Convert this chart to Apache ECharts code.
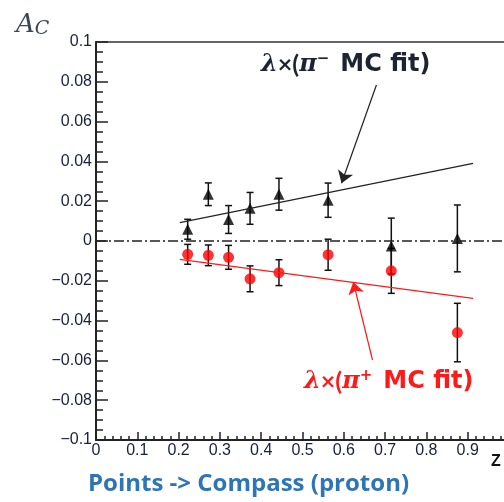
<!DOCTYPE html>
<html>
<head>
<meta charset="utf-8">
<script src="https://cdn.jsdelivr.net/npm/echarts@6/dist/echarts.min.js"></script>
<style>
html,body{margin:0;padding:0;background:#fff;}
#chart{width:504px;height:502px;}
</style>
</head>
<body>
<div id="chart"></div>
<script>
// z bins (same for both samples)
var zVals = [0.222, 0.272, 0.321, 0.373, 0.443, 0.562, 0.715, 0.875];
// pi- points (black triangles)
var acMinus = [0.0059, 0.0235, 0.0108, 0.0164, 0.0235, 0.0205, -0.0025, 0.0013];
var errMinus = [0.005, 0.0057, 0.007, 0.008, 0.008, 0.0086, 0.014, 0.0168];
// pi+ points (red circles)
var acPlus = [-0.0067, -0.0072, -0.0082, -0.0190, -0.0159, -0.0069, -0.0150, -0.0460];
var errPlus = [0.005, 0.0052, 0.006, 0.0065, 0.0065, 0.0078, 0.0113, 0.0147];
// MC fit lines, start/end
var fitZ = [0.203, 0.913];
var fitMinus = [0.0092, 0.039];
var fitPlus = [-0.0092, -0.0288];
// zero reference line
var zeroZ = [0, 1];
var zeroY = [0, 0];
// arrows of the annotations [z, A_C] tail -> head
var arrowMinus = [[0.679, 0.0784], [0.5945, 0.029]];
var arrowPlus = [[0.6695, -0.0598], [0.623, -0.0206]];

var axisColor = '#222';

function pairs(xs, ys){
  var out = [];
  for(var i=0;i<xs.length;i++){ out.push([xs[i], ys[i]]); }
  return out;
}
function bars(xs, ys, es){
  var out = [];
  for(var i=0;i<xs.length;i++){ out.push([xs[i], ys[i]-es[i], ys[i]+es[i]]); }
  return out;
}
function renderErr(params, api){
  var x = api.value(0);
  var top = api.coord([x, api.value(2)]);
  var bot = api.coord([x, api.value(1)]);
  var w = 3.5;
  var st = {stroke:'#111', lineWidth:1.5};
  return {
    type:'group',
    children:[
      {type:'line', shape:{x1:top[0], y1:top[1], x2:bot[0], y2:bot[1]}, style:st},
      {type:'line', shape:{x1:top[0]-w, y1:top[1], x2:top[0]+w, y2:top[1]}, style:st},
      {type:'line', shape:{x1:bot[0]-w, y1:bot[1], x2:bot[0]+w, y2:bot[1]}, style:st}
    ]
  };
}
function yFmt(v){
  if(Math.abs(v) < 1e-9) return '0';
  return String(+v.toFixed(2)).replace('-', '\u2212');
}
function xFmt(v){
  if(Math.abs(v) < 1e-9) return '0';
  return String(+v.toFixed(1));
}
function annot(color){
  return {
    i: {fontFamily: 'DejaVu Serif', fontStyle: 'italic', fontWeight: 'bold', fontSize: 24, fill: color},
    n: {fontFamily: 'Lato', fontWeight: 'bold', fontSize: 25, fill: color},
    s: {fontFamily: 'DejaVu Sans', fontWeight: 'bold', fontSize: 15, fill: color, padding: [0, 0, 11, 0]},
    m: {fontFamily: 'DejaVu Sans', fontWeight: 'bold', fontSize: 24, fill: color, padding: [0, 0, 0, 11]}
  };
}

var myChart = echarts.init(document.getElementById('chart'));

var option = {
  animation: false,
  grid: {
    left: 96, right: -5, top: 42, bottom: 62,
    show: true, borderColor: '#333', borderWidth: 1.5,
    outerBoundsMode: 'none'
  },
  xAxis: {
    type: 'value', min: 0, max: 1, interval: 0.1,
    axisLine: {onZero: false, lineStyle: {color: axisColor, width: 2}},
    axisTick: {inside: true, length: 8, lineStyle: {color: axisColor, width: 1.5}},
    minorTick: {show: true, splitNumber: 5, length: 4, lineStyle: {color: axisColor, width: 1.5}},
    splitLine: {show: false},
    axisLabel: {
      margin: 3, color: '#16203a', fontSize: 16, fontFamily: 'Liberation Sans',
      formatter: xFmt
    }
  },
  yAxis: {
    type: 'value', min: -0.1, max: 0.1, interval: 0.02,
    axisLine: {lineStyle: {color: axisColor, width: 2}},
    axisTick: {inside: true, length: 12, lineStyle: {color: axisColor, width: 1.5}},
    minorTick: {show: true, splitNumber: 4, length: 7, lineStyle: {color: axisColor, width: 1.5}},
    splitLine: {show: false},
    axisLabel: {
      margin: 4, color: '#16203a', fontSize: 16, fontFamily: 'Liberation Sans',
      formatter: yFmt
    }
  },
  series: [
    {
      type: 'line', data: pairs(zeroZ, zeroY), symbol: 'none', silent: true,
      lineStyle: {color: '#222', width: 1.3, type: [10, 3, 2, 3]}
    },
    {
      type: 'line', data: pairs(fitZ, fitMinus), symbol: 'none', silent: true,
      lineStyle: {color: '#222', width: 1.2},
      markLine: {
        silent: true, symbol: ['none', 'arrow'], symbolSize: 12,
        label: {show: false},
        lineStyle: {color: '#222', width: 1.2, type: 'solid'},
        data: [[{coord: arrowMinus[0]}, {coord: arrowMinus[1]}]]
      }
    },
    {
      type: 'line', data: pairs(fitZ, fitPlus), symbol: 'none', silent: true,
      lineStyle: {color: '#ff1a1a', width: 1.2},
      markLine: {
        silent: true, symbol: ['none', 'arrow'], symbolSize: 12,
        label: {show: false},
        lineStyle: {color: '#ff1a1a', width: 1.2, type: 'solid'},
        data: [[{coord: arrowPlus[0]}, {coord: arrowPlus[1]}]]
      }
    },
    {type: 'custom', renderItem: renderErr, data: bars(zVals, acMinus, errMinus), silent: true},
    {type: 'custom', renderItem: renderErr, data: bars(zVals, acPlus, errPlus), silent: true},
    {
      type: 'scatter', data: pairs(zVals, acMinus), symbol: 'triangle', symbolSize: 11,
      itemStyle: {color: '#000'}, silent: true
    },
    {
      type: 'scatter', data: pairs(zVals, acPlus), symbol: 'circle', symbolSize: 11,
      itemStyle: {color: '#ff0000'}, silent: true
    }
  ],
  graphic: [
    {
      type: 'text', left: 16, top: 12,
      style: {
        text: '{a|A}{c|C}',
        rich: {
          a: {fontFamily: 'DejaVu Serif', fontStyle: 'italic', fontSize: 26, fill: '#3a4658'},
          c: {fontFamily: 'DejaVu Serif', fontStyle: 'italic', fontSize: 19, fill: '#3a4658', padding: [9, 0, 0, 0]}
        }
      }
    },
    {
      type: 'text', left: 261, top: 52,
      style: {text: '{i|λ}{n|×(}{i|π}{s|−}{m|MC fit)}', rich: annot('#1c2433')}
    },
    {
      type: 'text', left: 304, top: 369,
      style: {text: '{i|λ}{n|×(}{i|π}{s|+}{m|MC fit)}', rich: annot('#ff1a1a')}
    },
    {
      type: 'text', left: 491, top: 454,
      style: {text: 'Z', fontFamily: 'Liberation Sans', fontWeight: 'bold', fontSize: 16, fill: '#111'}
    },
    {
      type: 'text', left: 88, top: 472,
      style: {text: 'Points -> Compass (proton)', fontFamily: 'Open Sans', fontWeight: 'bold', fontSize: 24, fill: '#2e75b6'}
    }
  ]
};

myChart.setOption(option);
</script>
</body>
</html>
